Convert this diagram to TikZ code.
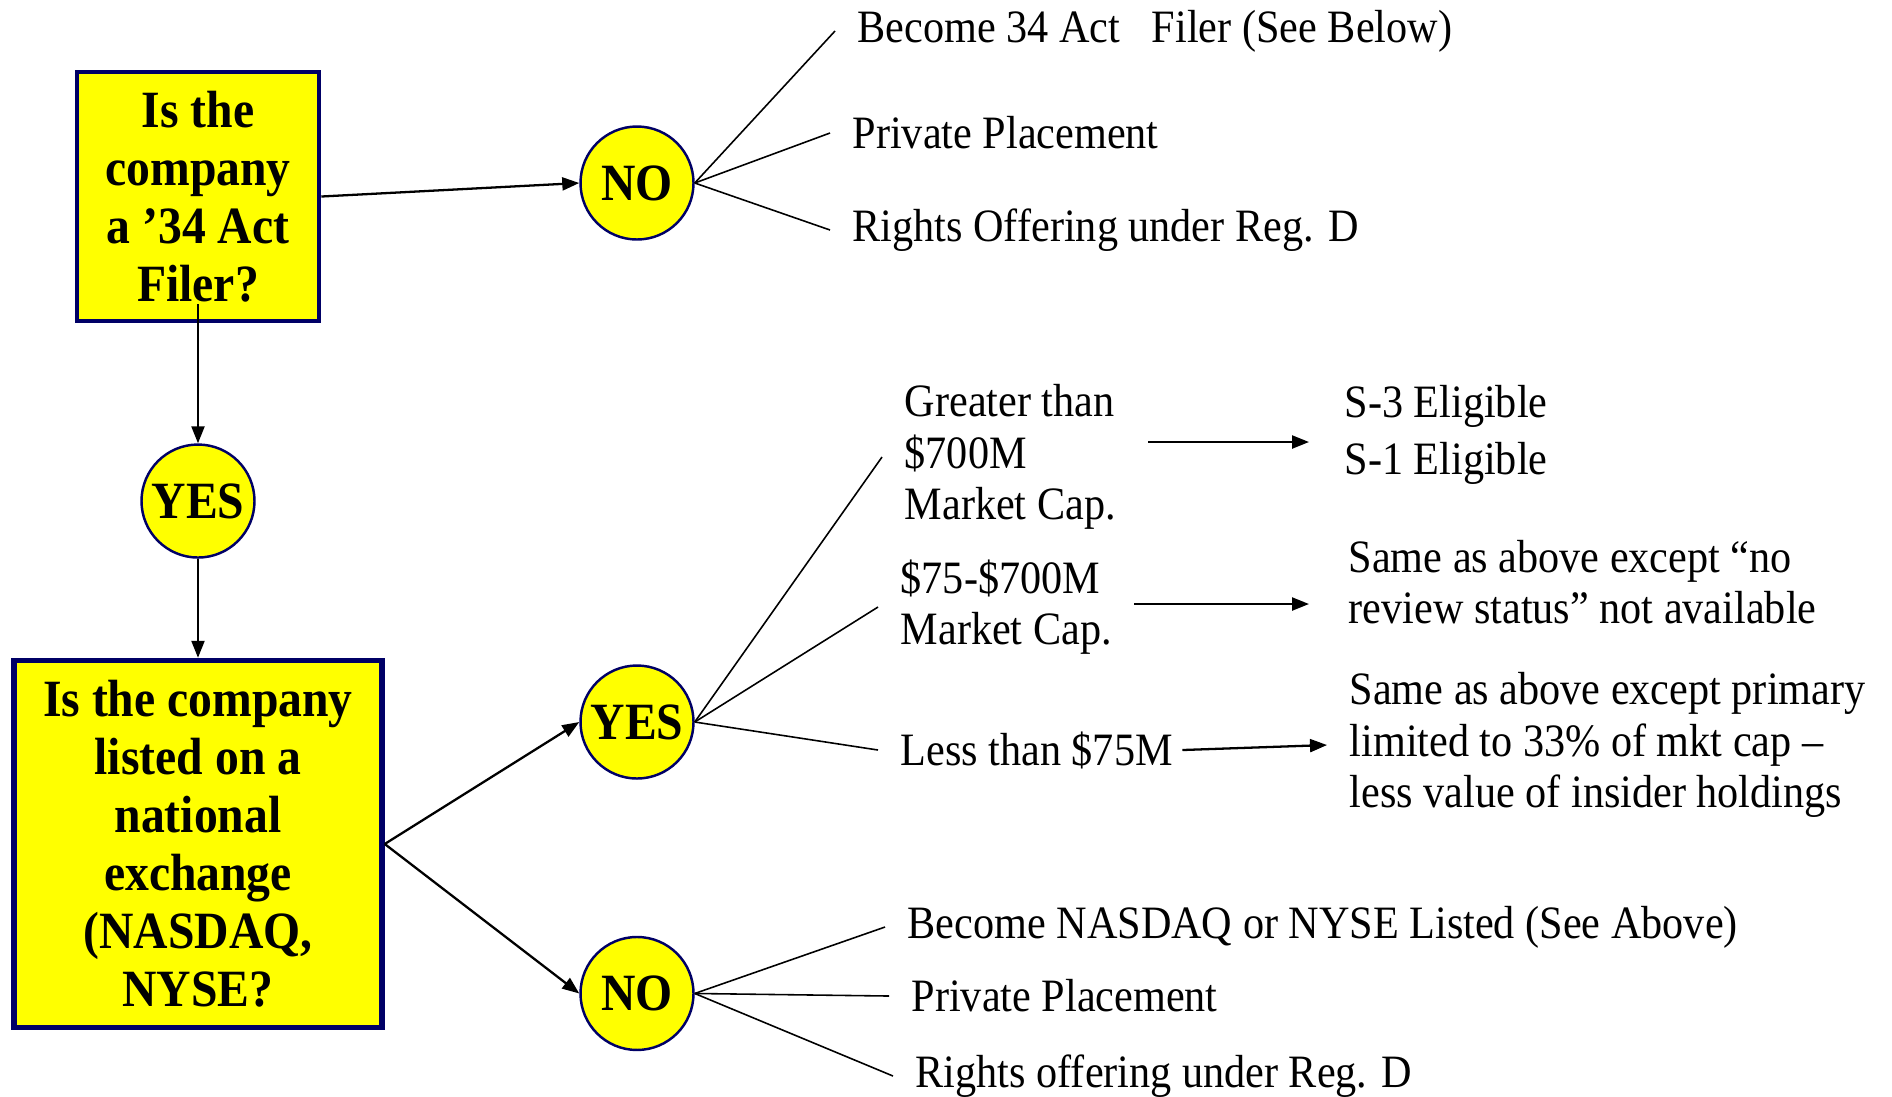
\documentclass[tikz,border=0pt]{standalone}
\usepackage{fontspec}
\setmainfont{Liberation Serif}[FakeStretch=0.91]
\usetikzlibrary{arrows.meta,positioning}
\definecolor{qyellow}{RGB}{255,255,0}
\definecolor{qnavy}{RGB}{0,0,102}
\newcommand{\qfont}{\fontsize{14.9}{16.5}\selectfont\bfseries}
\newcommand{\leaffont}{\fontsize{13.2}{14.6}\selectfont}
\tikzset{
  qbox/.style={draw=qnavy, fill=qyellow, line width=1.3pt, align=center, inner sep=0pt, font=\qfont},
  answer/.style={circle, draw=qnavy, fill=qyellow, line width=0.7pt, minimum size=1.13cm, inner sep=0pt, font=\qfont},
  leaf/.style={anchor=west, align=left, inner xsep=0.22cm, inner ysep=0.02cm, font=\leaffont},
  decarrow/.style={-{Triangle[length=0.17cm,width=0.13cm]}, line width=0.65pt},
  fanline/.style={line width=0.45pt}
}
\begin{document}
\begin{tikzpicture}[node distance=1cm]
\useasboundingbox (0,0) rectangle (18.92,-10.96);
% questions
\node[qbox, minimum width=2.42cm, minimum height=2.49cm] (q1) at (1.98,-1.965) {Is the\\company\\a ’34 Act\\Filer?};
\node[answer, below=1.20cm of q1] (yes1) {YES};
\node[qbox, line width=1.55pt, minimum width=3.68cm, minimum height=3.67cm, below=0.99cm of yes1] (q2) {Is the company\\listed on a\\national\\exchange\\(NASDAQ,\\NYSE?};
% answers
\node[answer] (no1) at (6.37,-1.83) {NO};
\node[answer] (yes2) at (6.37,-7.22) {YES};
\node[answer, below=1.56cm of yes2] (no2) {NO};
% outcomes
\node[leaf] (bc1) at (8.35,-0.31) {Become 34 Act\ \ \ Filer (See Below)};
\node[leaf] (pp1) at (8.30,-1.33) {Private Placement};
\node[leaf] (ro1) at (8.30,-2.30) {Rights Offering under Reg. D};
\node[leaf] (gt) at (8.82,-4.57) {Greater than\\\$700M\\Market Cap.};
\node[leaf] (mid) at (8.78,-6.07) {\$75-\$700M\\Market Cap.};
\node[leaf] (lt) at (8.78,-7.50) {Less than \$75M};
\node[leaf] (elig) at (13.22,-4.35) {S-3 Eligible\\[0.06cm]S-1 Eligible};
\node[leaf] (same1) at (13.26,-5.82) {Same as above except “no\\review status” not available};
\node[leaf] (prim) at (13.27,-7.45) {Same as above except primary\\limited to 33\% of mkt cap –\\less value of insider holdings};
\node[leaf] (bn) at (8.85,-9.27) {Become NASDAQ or NYSE Listed (See Above)};
\node[leaf] (pp2) at (8.89,-9.96) {Private Placement};
\node[leaf] (ro2) at (8.93,-10.76) {Rights offering under Reg. D};
% connectors
\draw[decarrow] (q1.east) -- (no1.west);
\draw[decarrow] ([yshift=0.19cm]q1.south) -- (yes1.north);
\draw[decarrow] (yes1.south) -- (q2.north);
\draw[decarrow] (q2.east) -- (yes2.west);
\draw[decarrow] (q2.east) -- (no2.west);
\foreach \leafname in {bc1,pp1,ro1}
  \draw[fanline] (no1.east) -- (\leafname.west);
\foreach \leafname in {gt,mid,lt}
  \draw[fanline] (yes2.east) -- (\leafname.west);
\foreach \leafname in {bn,pp2,ro2}
  \draw[fanline] (no2.east) -- (\leafname.west);
\draw[decarrow, shorten <=0.1cm, shorten >=0.13cm] ([yshift=0.15cm]gt.east) -- ([yshift=0.15cm]gt.east -| elig.west);
\draw[decarrow, shorten >=0.17cm] ([yshift=0.03cm]mid.east) -- ([yshift=0.03cm]mid.east -| same1.west);
\draw[decarrow] ([xshift=-0.13cm]lt.east) -- (prim.west);
\end{tikzpicture}
\end{document}
